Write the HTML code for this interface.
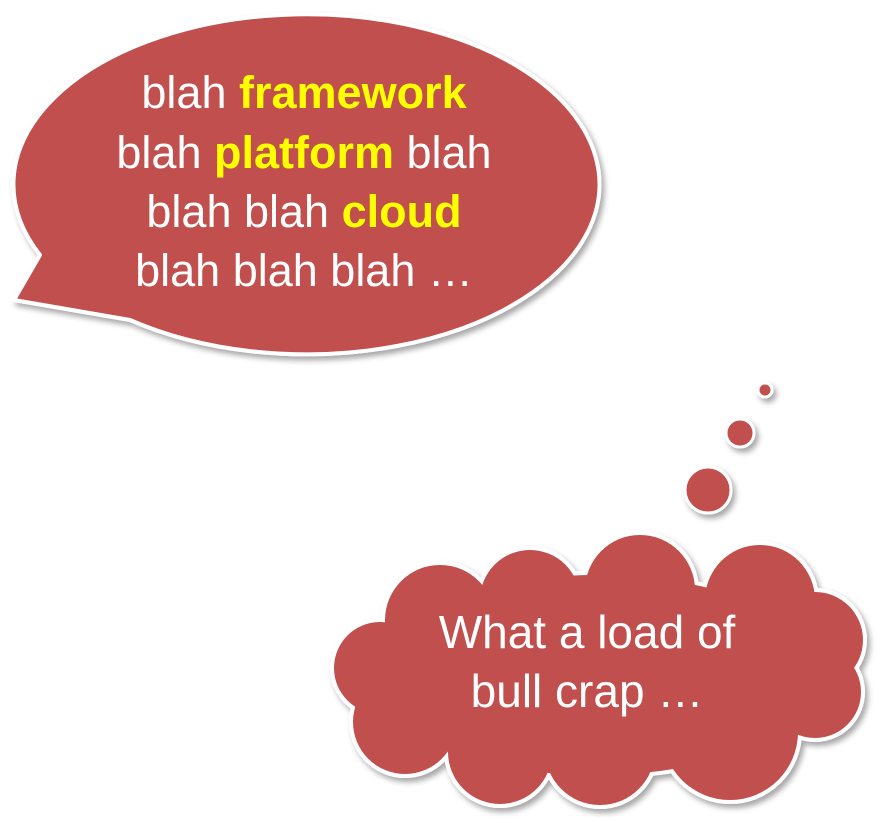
<!DOCTYPE html>
<html><head><meta charset="utf-8"><style>
html,body{margin:0;padding:0;background:#fff;}
body{width:884px;height:818px;overflow:hidden;}
text{font-family:"Liberation Sans",sans-serif;font-size:45px;fill:#fff;}
.y{fill:#ffff00;font-weight:bold;}
</style></head><body>
<svg width="884" height="818" viewBox="0 0 884 818">
<defs>
<filter id="sh" x="-10%" y="-10%" width="130%" height="130%"><feDropShadow dx="3" dy="4" stdDeviation="3" flood-color="#000" flood-opacity="0.35"/></filter>
</defs>
<g filter="url(#sh)">
<path d="M40,255 A293,170 0 1,1 130,320 L14,300 Z" fill="#C0504D" stroke="#fff" stroke-width="4" stroke-linejoin="round"/>
</g>
<text x="304" y="108" text-anchor="middle">blah <tspan class="y">framework</tspan></text>
<text x="304" y="168" text-anchor="middle">blah <tspan class="y">platform</tspan> blah</text>
<text x="304" y="227" text-anchor="middle">blah blah <tspan class="y">cloud</tspan></text>
<text x="304" y="286" text-anchor="middle">blah blah blah …</text>

<g filter="url(#sh)">
<circle cx="765" cy="390" r="7" fill="#C0504D" stroke="#fff" stroke-width="3"/>
<circle cx="740" cy="433" r="14" fill="#C0504D" stroke="#fff" stroke-width="3"/>
<circle cx="708" cy="490" r="23" fill="#C0504D" stroke="#fff" stroke-width="3"/>
<g stroke="#fff" stroke-width="8" fill="#fff">
<ellipse cx="595" cy="675" rx="230" ry="100"/>
<circle cx="440" cy="620" r="55"/>
<circle cx="530" cy="600" r="50"/>
<circle cx="640" cy="590" r="55"/>
<circle cx="760" cy="600" r="55"/>
<circle cx="815" cy="640" r="48"/>
<circle cx="380" cy="668" r="46"/>
<circle cx="405" cy="722" r="52"/>
<circle cx="500" cy="752" r="52"/>
<circle cx="600" cy="750" r="55"/>
<circle cx="730" cy="732" r="68"/>
<circle cx="815" cy="692" r="46"/>
</g>
<g fill="#C0504D">
<ellipse cx="595" cy="675" rx="230" ry="100"/>
<circle cx="440" cy="620" r="55"/>
<circle cx="530" cy="600" r="50"/>
<circle cx="640" cy="590" r="55"/>
<circle cx="760" cy="600" r="55"/>
<circle cx="815" cy="640" r="48"/>
<circle cx="380" cy="668" r="46"/>
<circle cx="405" cy="722" r="52"/>
<circle cx="500" cy="752" r="52"/>
<circle cx="600" cy="750" r="55"/>
<circle cx="730" cy="732" r="68"/>
<circle cx="815" cy="692" r="46"/>
</g>
</g>
<text x="587" y="648" text-anchor="middle" style="font-size:46px">What a load of</text>
<text x="587" y="707" text-anchor="middle" style="font-size:46px">bull crap …</text>
</svg>
</body></html>
